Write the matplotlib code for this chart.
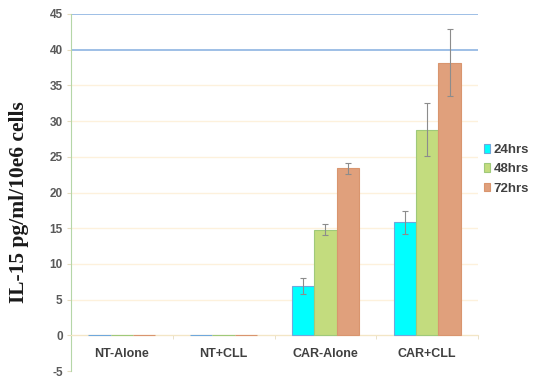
import numpy as np
import matplotlib.pyplot as plt

groups = ['NT-Alone', 'NT+CLL', 'CAR-Alone', 'CAR+CLL']
series = ['24hrs', '48hrs', '72hrs']
v24 = [0.0, 0.0, 6.9, 15.8]
v48 = [0.0, 0.0, 14.8, 28.8]
v72 = [0.0, 0.0, 23.4, 38.2]
e24 = [0.0, 0.0, 1.1, 1.6]
e48 = [0.0, 0.0, 0.8, 3.7]
e72 = [0.0, 0.0, 0.8, 4.7]
yticks = [-5, 0, 5, 10, 15, 20, 25, 30, 35, 40, 45]

fills = ['#00ffff', '#c3dc7e', '#e0a07c']
edges = ['#6fa8dc', '#9fc97a', '#d9956e']
sans = 'Liberation Sans'

fig = plt.figure(figsize=(5.33, 3.77), dpi=100)
ax = fig.add_axes([71/533, 1-371/377, (478-71)/533, (371-14)/377])
ax.spines['bottom'].set_position(('data', 0))

x = np.arange(len(groups))
w = 0.22
for i, (vals, errs) in enumerate([(v24, e24), (v48, e48), (v72, e72)]):
    pos = x + (i - 1) * w
    ax.bar(pos, vals, w, color=fills[i], edgecolor=edges[i], linewidth=0.8,
           label=series[i], zorder=3)
    ok = [j for j in range(len(vals)) if errs[j] > 0]
    ax.errorbar(pos[ok], np.array(vals)[ok], yerr=np.array(errs)[ok], fmt='none',
                ecolor='#8c8c8c', elinewidth=0.8, capsize=2, capthick=0.8, zorder=4)

ax.set_xlim(-0.5, 3.5)
ax.set_ylim(-5, 45)
ax.set_yticks(yticks)
ax.set_yticklabels([str(t) for t in yticks], fontsize=8.5, fontweight='bold',
                   color='#595959', family=sans)
for t in yticks:
    if t in (40, 45):
        ax.axhline(t, color='#8db4e2', lw=1.2, zorder=1)
    elif t != -5:
        ax.axhline(t, color='#fdf1dc', lw=1, zorder=1)

ax.set_xticks(x)
ax.set_xticklabels(groups, fontsize=9, fontweight='bold', color='#404040', family=sans)
ax.set_xticks([0.5, 1.5, 2.5, 3.5], minor=True)
ax.spines['bottom'].set_color('#f3e6c6')
ax.tick_params(axis='x', which='major', length=0, pad=9)
ax.tick_params(axis='x', which='minor', length=3, color='#e6dcc0', direction='out')
ax.tick_params(axis='y', length=3, color='#e6dcc0', pad=3)
for s in ['top', 'right']:
    ax.spines[s].set_visible(False)
ax.spines['left'].set_color('#b5d6a7')
ax.spines['left'].set_linestyle((0, (4, 1)))

ax.set_ylabel('IL-15 pg/ml/10e6 cells', fontsize=15.5, fontweight='bold',
              family='Liberation Serif', color='#1a1a1a')
ax.yaxis.set_label_coords(-0.102, 0.473)

leg = ax.legend(loc='center left', bbox_to_anchor=(0.995, 0.565), frameon=False,
                handlelength=0.5, handleheight=0.6, handletextpad=0.25,
                labelspacing=0.55, borderaxespad=0.2,
                prop={'family': sans, 'weight': 'bold', 'size': 9.5})
for t in leg.get_texts():
    t.set_color('#404040')

fig.savefig('out.png', dpi=100)
